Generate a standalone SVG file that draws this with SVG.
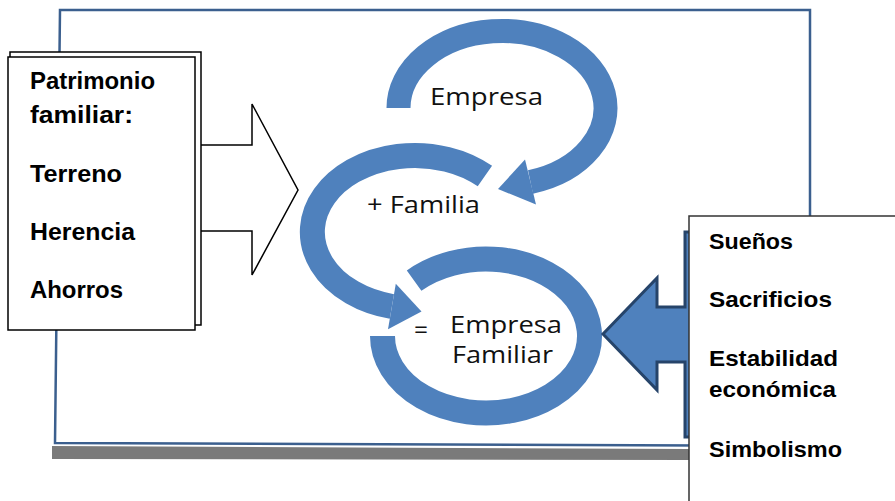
<svg xmlns="http://www.w3.org/2000/svg" width="895" height="501" viewBox="0 0 895 501">
  <style>
    .frame { fill: #ffffff; stroke: #3b5f8e; stroke-width: 2.5; }
    .shadow { fill: #7a7a7a; }
    .cyc { fill: none; stroke: #4f81bd; }
    .head { fill: #4f81bd; }
    .box { fill: #ffffff; stroke: #000000; stroke-width: 1.5; }
    .rbox { fill: #ffffff; stroke: #333333; stroke-width: 1.5; }
    .block { fill: #ffffff; stroke: #000000; stroke-width: 1.5; }
    .callout { fill: #4f81bd; stroke: #26446a; stroke-width: 3; stroke-linejoin: miter; }
    .lbl { font-family: "Liberation Sans", Arial, sans-serif; font-weight: bold; font-size: 23px; fill: #000000; }
    .rlbl { font-family: "Liberation Sans", Arial, sans-serif; font-weight: bold; font-size: 22px; fill: #000000; }
    .cl { font-family: "Open Sans", "Noto Sans", sans-serif; font-size: 23px; font-weight: 500; fill: #111111; }
  </style>

  <g id="frame">
    <polygon class="shadow" points="52,446 690,449 690,460 52,459"/>
    <polygon class="frame" points="60,10 810,10 810,446 55,443"/>
  </g>

  <g id="connectors">
    <!-- cycle arrow 1: Empresa -->
    <path class="cyc" stroke-width="24" d="M398.5,108 A103.5,77 0 1 1 530.5,182"/>
    <polygon class="head" points="536,204.5 525,159.5 498,189"/>
    <!-- cycle arrow 2: + Familia -->
    <path class="cyc" stroke-width="25" d="M484.9,176.1 A102.5,76.5 0 1 0 391.9,306.5"/>
    <polygon class="head" points="395.8,283.8 388,329.2 421.5,311.6"/>
    <!-- cycle 3: Empresa Familiar -->
    <path class="cyc" stroke-width="25" d="M414.1,280.6 A103.5,77 0 1 1 382.5,336"/>
    <!-- left block arrow -->
    <polygon class="block" points="195,145 252,145 252,104 298,190 252,275 252,231 195,231"/>
    <!-- right callout arrow -->
    <path class="callout" d="M685,232 H905 V437 H685 V362 H657 V390 L603,334 L657,278 V307 H685 Z"/>
  </g>

  <g id="node-empresa">
    <text class="cl" x="430" y="105" textLength="113" lengthAdjust="spacingAndGlyphs">Empresa</text>
  </g>
  <g id="node-familia">
    <text class="cl" x="367" y="213" textLength="113" lengthAdjust="spacingAndGlyphs">+ Familia</text>
  </g>
  <g id="node-empresa-familiar">
    <text class="cl" x="414" y="338" font-size="22" font-weight="bold" textLength="14" lengthAdjust="spacingAndGlyphs">=</text>
    <text class="cl" x="450" y="333" textLength="112" lengthAdjust="spacingAndGlyphs">Empresa</text>
    <text class="cl" x="452" y="363" textLength="101" lengthAdjust="spacingAndGlyphs">Familiar</text>
  </g>

  <g id="node-patrimonio">
    <rect class="box" x="10" y="52" width="191" height="273"/>
    <rect class="box" x="8" y="57" width="187" height="273"/>
    <text class="lbl" x="30" y="89" textLength="125" lengthAdjust="spacingAndGlyphs">Patrimonio</text>
    <text class="lbl" x="30" y="123" textLength="103" lengthAdjust="spacingAndGlyphs">familiar:</text>
    <text class="lbl" x="30" y="182" textLength="92" lengthAdjust="spacingAndGlyphs">Terreno</text>
    <text class="lbl" x="30" y="240" textLength="105" lengthAdjust="spacingAndGlyphs">Herencia</text>
    <text class="lbl" x="30" y="298" textLength="93" lengthAdjust="spacingAndGlyphs">Ahorros</text>
  </g>

  <g id="node-valores">
    <rect class="rbox" x="689" y="216" width="220" height="300"/>
    <text class="rlbl" x="709" y="249" textLength="84" lengthAdjust="spacingAndGlyphs">Sueños</text>
    <text class="rlbl" x="709" y="307" textLength="123" lengthAdjust="spacingAndGlyphs">Sacrificios</text>
    <text class="rlbl" x="709" y="366" textLength="129" lengthAdjust="spacingAndGlyphs">Estabilidad</text>
    <text class="rlbl" x="709" y="397" textLength="127" lengthAdjust="spacingAndGlyphs">económica</text>
    <text class="rlbl" x="709" y="457" textLength="133" lengthAdjust="spacingAndGlyphs">Simbolismo</text>
  </g>
</svg>
